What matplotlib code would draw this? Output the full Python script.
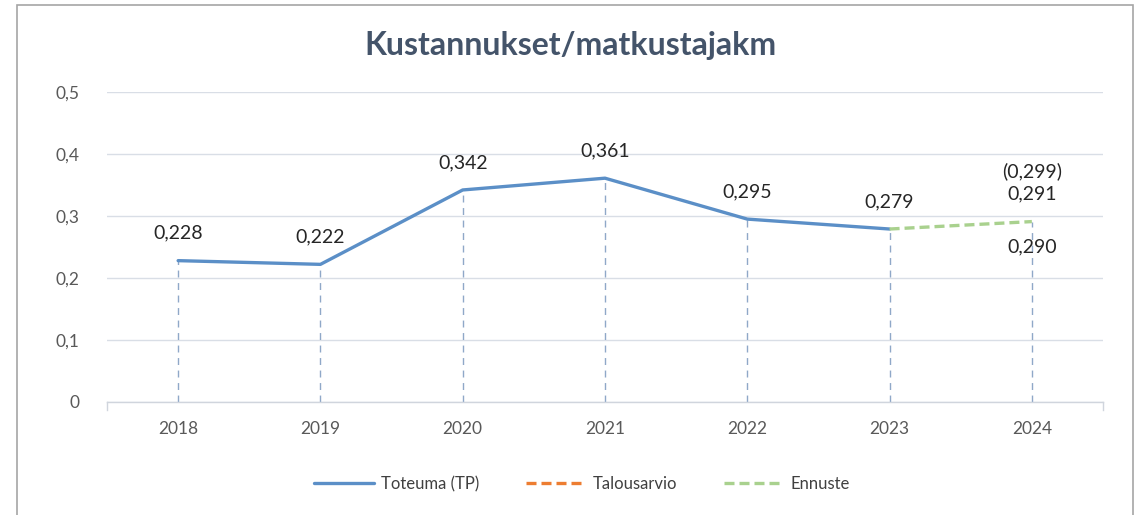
import numpy as np
import matplotlib.pyplot as plt
from matplotlib.patches import Rectangle

years = ['2018', '2019', '2020', '2021', '2022', '2023', '2024']
toteuma = [0.228, 0.222, 0.342, 0.361, 0.295, 0.279]
ennuste_years = ['2023', '2024']
ennuste = [0.279, 0.291]
talousarvio_years = ['2024']
talousarvio = [0.290]
extra_label = '(0,299)'

yticks = [0, 0.1, 0.2, 0.3, 0.4, 0.5]
ytick_labels = ['0', '0,1', '0,2', '0,3', '0,4', '0,5']


def fi(v):
    return ('%.3f' % v).replace('.', ',')


plt.rcParams['font.family'] = ['Lato', 'DejaVu Sans']

fig = plt.figure(figsize=(11.39, 5.15), dpi=100)
ax = fig.add_axes([107 / 1139, 1 - 402 / 515, (1103 - 107) / 1139, (402 - 92) / 515])

# outer frame of the chart area
fig.patches.append(Rectangle((17 / 1139, -0.1), (1133 - 17) / 1139, 1.1 - 5 / 515,
                             transform=fig.transFigure, fill=False,
                             edgecolor='#a6a6a6', linewidth=1.2))

x = np.arange(len(years))
xi = {y: i for i, y in enumerate(years)}

blue = '#5b8fc7'
orange = '#ed7d31'
green = '#a9d18e'

# drop lines
all_vals = toteuma + [ennuste[-1]]
for i, v in enumerate(all_vals):
    ax.plot([i, i], [0, v], color='#8fa8c8', linewidth=1, linestyle=(0, (5, 4)), zorder=1)

ax.plot(x[:len(toteuma)], toteuma, color=blue, linewidth=2.4, label='Toteuma (TP)', zorder=3,
        solid_capstyle='round')
ax.plot([xi[y] for y in talousarvio_years], talousarvio, color=orange, linewidth=2.4,
        linestyle=(0, (3, 1.5)), label='Talousarvio', zorder=3)
ax.plot([xi[y] for y in ennuste_years], ennuste, color=green, linewidth=2.4,
        linestyle=(0, (3, 1.5)), label='Ennuste', zorder=4)

fs = 14
for i, v in enumerate(toteuma):
    ax.text(i, v + 0.044, fi(v), ha='center', va='center', fontsize=fs, color='#262626')
ax.text(6, ennuste[-1] + 0.044, fi(ennuste[-1]), ha='center', va='center', fontsize=fs, color='#262626')
ax.text(6, ennuste[-1] + 0.082, extra_label, ha='center', va='center', fontsize=fs, color='#262626')
ax.text(6, talousarvio[0] - 0.040, fi(talousarvio[0]), ha='center', va='center', fontsize=fs, color='#262626')

ax.set_xlim(-0.5, 6.5)
ax.set_ylim(0, 0.5)
ax.set_xticks(x)
ax.set_xticklabels(years)
ax.set_xticks(np.arange(-0.5, 7, 1), minor=True)
ax.set_yticks(yticks)
ax.set_yticklabels(ytick_labels)
ax.tick_params(axis='x', which='major', length=0, pad=14, labelsize=12.5, labelcolor='#595959')
ax.tick_params(axis='x', which='minor', length=0)
ax.tick_params(axis='y', length=0, pad=20, labelsize=12.5, labelcolor='#595959')
for lab in ax.get_yticklabels():
    lab.set_horizontalalignment('right')

ax.grid(axis='y', color='#d9dee6', linewidth=1)
ax.set_axisbelow(True)
for s in ['top', 'right', 'left']:
    ax.spines[s].set_visible(False)
ax.spines['bottom'].set_color('#d0d5dd')
ax.spines['bottom'].set_linewidth(1)
# small ticks at both ends of the category axis
for xe in [-0.5, 6.5]:
    ax.plot([xe, xe], [0, -0.013], color='#d0d5dd', linewidth=1, clip_on=False)

fig.text(570 / 1139, 1 - 45 / 515, 'Kustannukset/matkustajakm', ha='center', va='center',
         fontsize=23, fontweight='bold', color='#44546a')

fig.legend(loc='center', bbox_to_anchor=(582 / 1139, 1 - 484 / 515), ncol=3, frameon=False,
           fontsize=12, labelcolor='#404040', handlelength=3.6, columnspacing=2.8, handletextpad=0.4)

fig.savefig('out.png', dpi=100)
